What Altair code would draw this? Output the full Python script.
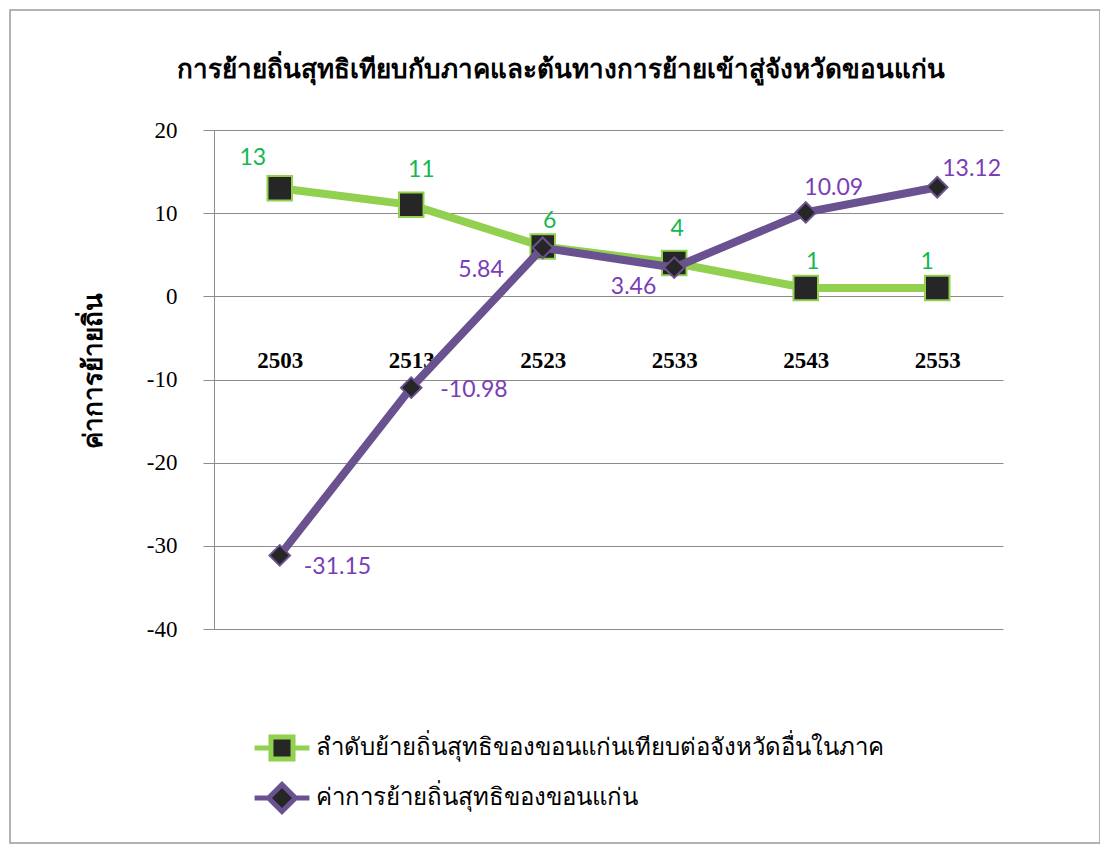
import altair as alt
import pandas as pd

years = ["2503", "2513", "2523", "2533", "2543", "2553"]
rank_values = [13, 11, 6, 4, 1, 1]
migration_values = [-31.15, -10.98, 5.84, 3.46, 10.09, 13.12]
rank_labels = ["13", "11", "6", "4", "1", "1"]
migration_labels = ["-31.15", "-10.98", "5.84", "3.46", "10.09", "13.12"]
series_names = [
    "ลำดับย้ายถิ่นสุทธิของขอนแก่นเทียบต่อจังหวัดอื่นในภาค",
    "ค่าการย้ายถิ่นสุทธิของขอนแก่น",
]
title_text = "การย้ายถิ่นสุทธิเทียบกับภาคและต้นทางการย้ายเข้าสู่จังหวัดขอนแก่น"
y_title = "ค่าการย้ายถิ่น"
y_ticks = [-40, -30, -20, -10, 0, 10, 20]

GREEN_LINE = "#92D050"
PURPLE_LINE = "#6A5190"
GREEN_TEXT = "#12B850"
PURPLE_TEXT = "#7A3DB8"
MARKER = "#262626"
GRID = "#8C8C8C"
THAI = "Liberation Serif"
SERIF = "Liberation Serif"

rows = []
for sid, (vals, labs) in enumerate([(rank_values, rank_labels), (migration_values, migration_labels)]):
    for i, (y, v, l) in enumerate(zip(years, vals, labs)):
        rows.append({"year": y, "idx": i, "sid": sid, "series": series_names[sid], "value": v, "label": l})
df = pd.DataFrame(rows)

X = alt.X(
    "year:O",
    sort=years,
    scale=alt.Scale(domain=years, padding=0.5),
    axis=alt.Axis(
        title=None, orient="bottom", offset=-333, domain=False, ticks=False,
        labelPadding=53, labelFont=SERIF, labelFontSize=23, labelFontWeight="bold",
        labelColor="black", labelAngle=0, grid=False,
    ),
)
Y = alt.Y(
    "value:Q",
    scale=alt.Scale(domain=[-40, 20], nice=False, zero=False),
    axis=alt.Axis(
        title=y_title, values=y_ticks, tickSize=11, labelPadding=26,
        labelExpr="'' + datum.value",
        grid=True, gridColor=GRID, domainColor=GRID, tickColor=GRID,
        labelFont=SERIF, labelFontSize=23, labelColor="black",
        titleFont=THAI, titleFontSize=26, titleFontWeight="bold", titleColor="black",
        titleX=-108, titleY=240,
    ),
)

base = alt.Chart(df)

border = alt.Chart(pd.DataFrame({"d": [0]})).mark_rect(
    fill="white", fillOpacity=0, stroke="#9A9A9A", strokeWidth=1.5
).encode(x=alt.value(-204), x2=alt.value(886), y=alt.value(-120), y2=alt.value(713))


def line_layer(sid, color):
    return base.transform_filter(f"datum.sid == {sid}").mark_line(
        color=color, strokeWidth=8
    ).encode(x=X, y=Y)


squares = base.transform_filter("datum.sid == 0").mark_point(
    shape="square", filled=True, size=600, fill=MARKER, stroke=GREEN_LINE, strokeWidth=2, opacity=1
).encode(x=X, y=Y)

diamonds = base.transform_filter("datum.sid == 1").mark_point(
    shape="diamond", filled=True, size=420, fill=MARKER, stroke=PURPLE_LINE, strokeWidth=2, opacity=1
).encode(x=X, y=Y)

legend_def = alt.Legend(
    title=None, orient="none", legendX=41, legendY=591, padding=0,
    symbolSize=2401, symbolStrokeWidth=5, symbolOpacity=1, symbolFillColor=MARKER,
    labelFont=THAI, labelFontSize=24, labelColor="black", labelLimit=1000,
    labelOffset=7, rowPadding=1,
)
path_square = "M-1.12,0H-0.5M0.5,0H1.12M-0.45,-0.45H0.45V0.45H-0.45Z"
path_diamond = "M-1.12,0H-0.55M0.55,0H1.12M0,-0.55L0.55,0L0,0.55L-0.55,0Z"
legend_layer = base.mark_point(opacity=0, filled=False, fill=MARKER).encode(
    x=X, y=Y,
    stroke=alt.Stroke("series:N", scale=alt.Scale(domain=series_names, range=[GREEN_LINE, PURPLE_LINE]), legend=legend_def),
    shape=alt.Shape("series:N", scale=alt.Scale(domain=series_names, range=[path_square, path_diamond]), legend=legend_def),
)


def label_layer(sid, idxs, color, align, dx, dy):
    cond = " || ".join(f"datum.idx == {i}" for i in idxs)
    return base.transform_filter(f"datum.sid == {sid} && ({cond})").mark_text(
        align=align, baseline="middle", dx=dx, dy=dy, font="Lato", fontSize=23, color=color
    ).encode(x=X, y=Y, text="label:N")


labels = [
    label_layer(0, [0], GREEN_TEXT, "center", -27, -30),
    label_layer(0, [1], GREEN_TEXT, "center", 10, -35),
    label_layer(0, [2], GREEN_TEXT, "center", 7, -25),
    label_layer(0, [3], GREEN_TEXT, "center", 3, -34),
    label_layer(0, [4], GREEN_TEXT, "center", 7, -26),
    label_layer(0, [5], GREEN_TEXT, "center", -10, -26),
    label_layer(1, [0], PURPLE_TEXT, "left", 24, 12),
    label_layer(1, [1], PURPLE_TEXT, "left", 29, 2),
    label_layer(1, [2], PURPLE_TEXT, "right", -39, 22),
    label_layer(1, [3], PURPLE_TEXT, "right", -18, 19),
    label_layer(1, [4], PURPLE_TEXT, "center", 28, -24),
    label_layer(1, [5], PURPLE_TEXT, "left", 5, -18),
]

chart = alt.layer(
    border,
    line_layer(0, GREEN_LINE),
    squares,
    line_layer(1, PURPLE_LINE),
    diamonds,
    legend_layer,
    *labels,
).properties(
    width=789,
    height=499,
    padding={"left": 206, "top": 122, "right": 97, "bottom": 215},
    autosize=alt.AutoSizeParams(type="none"),
    title=alt.TitleParams(
        text=title_text, font=THAI, fontSize=26, fontWeight="bold", color="black",
        anchor="middle", dx=-48, offset=-74,
    ),
).configure_view(stroke=None)

chart.save("out.html", embed_options={"renderer": "svg", "actions": False})
